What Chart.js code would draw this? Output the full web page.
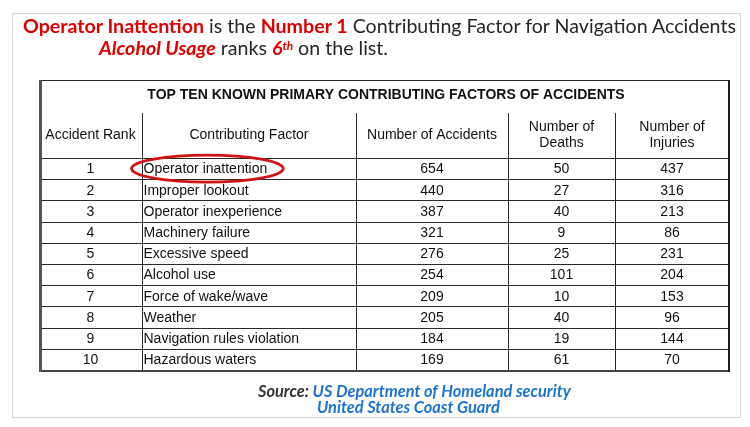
<!DOCTYPE html>
<html lang="en">
<head>
  <meta charset="UTF-8" />
  <title>Top Ten Contributing Factors of Accidents</title>
  <script src="https://cdn.jsdelivr.net/npm/chart.js"></script>
  <style>
    body { margin: 0; background: #fff; width: 750px; height: 427px; position: relative; overflow: hidden; }
    .frame { position: absolute; left: 12px; top: 13px; width: 727px; height: 403px; border: 1px solid #d4d4d4; }
    #tableChart { position: absolute; left: 0; top: 0; }
    .line { position: absolute; white-space: nowrap; font-family: Lato, "Open Sans", sans-serif; line-height: 1; color: #262626; }
    .red { color: #e00000; }
    .b { font-weight: bold; }
    .bi { font-weight: bold; font-style: italic; }
    sup { font-size: 0.6em; vertical-align: 0; position: relative; top: -0.45em; }
    .src { font-weight: bold; font-style: italic; color: #1c74d0; }
    .src .lbl { color: #333; }
  </style>
</head>
<body>
  <div class="frame"></div>
  <canvas id="tableChart" width="750" height="427"></canvas>

  <div id="head1" class="line" style="left:23px; top:16px; font-size:21px;">
    <span class="red b">Operator Inattention</span> is the <span class="red b">Number 1</span> Contributing Factor for Navigation Accidents
  </div>
  <div id="head2" class="line" style="left:99px; top:38px; font-size:21px;">
    <span class="red bi">Alcohol Usage</span> ranks <span class="red bi">6<sup>th</sup></span> on the list.
  </div>

  <div id="src1" class="line src" style="left:258px; top:383px; font-size:15px;"><span class="lbl">Source:</span> US Department of Homeland security</div>
  <div id="src2" class="line src" style="left:317px; top:399px; font-size:15px;">United States Coast Guard</div>

  <script>
    // table data
    const tableTitle = 'TOP TEN KNOWN PRIMARY CONTRIBUTING FACTORS OF ACCIDENTS';
    const headers = [['Accident Rank'], ['Contributing Factor'], ['Number of Accidents'], ['Number of', 'Deaths'], ['Number of', 'Injuries']];
    const ranks = ['1', '2', '3', '4', '5', '6', '7', '8', '9', '10'];
    const factors = ['Operator inattention', 'Improper lookout', 'Operator inexperience', 'Machinery failure',
      'Excessive speed', 'Alcohol use', 'Force of wake/wave', 'Weather', 'Navigation rules violation', 'Hazardous waters'];
    const accidents = [654, 440, 387, 321, 276, 254, 209, 205, 184, 169];
    const deaths = [50, 27, 40, 9, 25, 101, 10, 40, 19, 61];
    const injuries = [437, 316, 213, 86, 231, 204, 153, 96, 144, 70];

    // layout (x in column units, y in row units)
    const colEdges = [0, 103, 317, 469, 576, 690];
    const headerTop = -2.12, titleTop = -3.68;
    const FONT = '"Liberation Sans", Arial, sans-serif';

    const columns = [
      { values: ranks, align: 'center' },
      { values: factors, align: 'left' },
      { values: accidents, align: 'center' },
      { values: deaths, align: 'center' },
      { values: injuries, align: 'center' }
    ];

    const datasets = columns.map((col, c) => ({
      label: headers[c].join(' '),
      data: col.values.map((v, i) => ({
        x: col.align === 'left' ? colEdges[c] + 1.5 : (colEdges[c] + colEdges[c + 1]) / 2,
        y: i + 0.5
      })),
      pointRadius: 0,
      align: col.align
    }));

    const px = v => Math.round(v) + 0.5;

    const tablePlugin = {
      id: 'tableDraw',
      beforeDatasetsDraw(chart) {
        const { ctx, scales: { x, y } } = chart;
        const L = x.getPixelForValue(0), R = x.getPixelForValue(colEdges[colEdges.length - 1]);
        const T = y.getPixelForValue(titleTop), B = y.getPixelForValue(10);
        ctx.save();
        ctx.strokeStyle = '#2a2a2a';
        ctx.lineWidth = 1;
        ctx.beginPath();
        // top border, header bottom, row lines
        ctx.moveTo(L, px(T)); ctx.lineTo(R, px(T));
        for (let r = 0; r < 10; r++) {
          const yy = px(y.getPixelForValue(r));
          ctx.moveTo(L, yy); ctx.lineTo(R, yy);
        }
        // column lines
        for (let c = 1; c < colEdges.length - 1; c++) {
          const xx = px(x.getPixelForValue(colEdges[c]));
          ctx.moveTo(xx, y.getPixelForValue(headerTop)); ctx.lineTo(xx, B);
        }
        ctx.stroke();
        // bottom border
        ctx.strokeStyle = '#444';
        ctx.lineWidth = 2;
        ctx.beginPath(); ctx.moveTo(L, Math.round(B) + 1); ctx.lineTo(R + 1, Math.round(B) + 1); ctx.stroke();
        // left thick border
        ctx.fillStyle = '#555';
        ctx.fillRect(Math.round(L), Math.round(T), 3, B - T + 2);
        // right border
        ctx.fillStyle = '#1e1e1e';
        ctx.fillRect(Math.round(R) - 1, Math.round(T), 2, B - T + 2);
        ctx.restore();
      },
      afterDatasetsDraw(chart) {
        const { ctx, scales: { x, y } } = chart;
        ctx.save();
        ctx.fillStyle = '#111';
        ctx.textBaseline = 'middle';
        // title
        ctx.font = 'bold 14px ' + FONT;
        ctx.textAlign = 'center';
        ctx.fillText(tableTitle, x.getPixelForValue(colEdges[colEdges.length - 1] / 2) + 2, y.getPixelForValue(titleTop) + 15);
        // headers
        ctx.font = '14px ' + FONT;
        const hMid = y.getPixelForValue(headerTop / 2);
        headers.forEach((lines, c) => {
          const cx = x.getPixelForValue((colEdges[c] + colEdges[c + 1]) / 2);
          lines.forEach((t, k) => ctx.fillText(t, cx, hMid + (k - (lines.length - 1) / 2) * 16));
        });
        // cells
        chart.data.datasets.forEach((ds, c) => {
          const meta = chart.getDatasetMeta(c);
          ctx.textAlign = ds.align;
          meta.data.forEach((pt, i) => ctx.fillText(String(columns[c].values[i]), pt.x, pt.y + 1));
        });
        // red highlight around the top factor
        const first = chart.getDatasetMeta(1).data[0];
        const w = ctx.measureText(factors[0]).width;
        ctx.strokeStyle = '#d01414';
        ctx.lineWidth = 2.8;
        ctx.beginPath();
        ctx.ellipse(first.x + w / 2 + 2, first.y, w / 2 + 14, 13.5, 0, 0, Math.PI * 2);
        ctx.stroke();
        ctx.restore();
      }
    };

    new Chart(document.getElementById('tableChart'), {
      type: 'scatter',
      data: { datasets },
      options: {
        responsive: false,
        animation: false,
        devicePixelRatio: 1,
        layout: { padding: { left: 39, top: 80, right: 21, bottom: 57 } },
        plugins: { legend: { display: false }, tooltip: { enabled: false } },
        scales: {
          x: { type: 'linear', display: false, min: 0, max: colEdges[colEdges.length - 1] },
          y: { type: 'linear', display: false, min: titleTop, max: 10, reverse: true }
        }
      },
      plugins: [tablePlugin]
    });

    // fit the text lines to the widths in the reference
    function fit(id, width) {
      const el = document.getElementById(id);
      const size = parseFloat(getComputedStyle(el).fontSize);
      const s = size * width / el.getBoundingClientRect().width;
      el.style.fontSize = s + 'px';
      return s;
    }
    const hs = fit('head1', 713);
    document.getElementById('head2').style.fontSize = hs + 'px';
    const ss = fit('src1', 313);
    document.getElementById('src2').style.fontSize = ss + 'px';
  </script>
</body>
</html>
